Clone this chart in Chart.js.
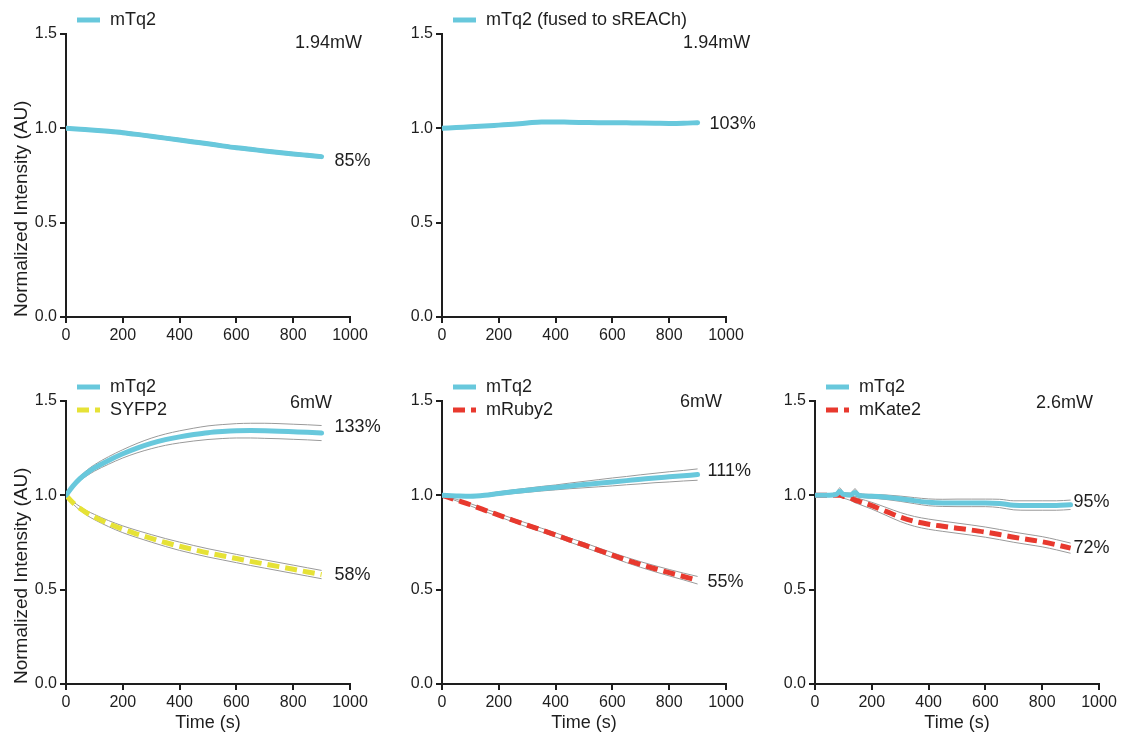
<!DOCTYPE html>
<html lang="en">
<head>
<meta charset="utf-8">
<title>Normalized Intensity</title>
<script src="https://cdn.jsdelivr.net/npm/chart.js@4/dist/chart.umd.min.js"></script>
<style>
    html, body { margin: 0; padding: 0; background: #fff; }
    #figura { position: relative; width: 1125px; height: 736px; overflow: hidden; }
    #figura canvas { position: absolute; }
</style>
</head>
<body>
<div id="figura">
    <canvas id="panel1"></canvas>
    <canvas id="panel2"></canvas>
    <canvas id="panel4"></canvas>
    <canvas id="panel5"></canvas>
    <canvas id="panel6"></canvas>
</div>
<script>
// Tiempos de medida (s)
const tiempo50 = [0, 50, 100, 150, 200, 250, 300, 350, 400, 450, 500, 550, 600, 650, 700, 750, 800, 850, 900];
const tiempoRapido = [0, 25, 50, 75, 100, 150, 200, 250, 300, 350, 400, 450, 500, 550, 600, 650, 700, 750, 800, 850, 900];
const tiempoP6 = [0, 50, 75, 87, 100, 125, 141, 155, 200, 250, 300, 350, 400, 450, 500, 550, 600, 650, 700, 750, 800, 850, 900];

// Panel 1: mTq2, 1.94mW
const mTq2P1 = [1.000, 0.995, 0.990, 0.984, 0.977, 0.968, 0.958, 0.948, 0.938, 0.928, 0.918, 0.907, 0.897, 0.889, 0.880, 0.872, 0.864, 0.857, 0.850];
const sdP1 = [0, 0.006, 0.007, 0.008, 0.008, 0.008, 0.008, 0.008, 0.008, 0.008, 0.008, 0.008, 0.008, 0.008, 0.008, 0.008, 0.008, 0.008, 0.008];

// Panel 2: mTq2 fusionado a sREACh, 1.94mW
const mTq2P2 = [1.000, 1.004, 1.008, 1.012, 1.017, 1.022, 1.028, 1.034, 1.034, 1.032, 1.031, 1.030, 1.030, 1.029, 1.028, 1.027, 1.026, 1.027, 1.030];
const sdP2 = [0, 0.005, 0.006, 0.006, 0.006, 0.006, 0.006, 0.006, 0.006, 0.006, 0.006, 0.006, 0.006, 0.006, 0.006, 0.006, 0.006, 0.006, 0.007];

// Panel 4: mTq2 + SYFP2, 6mW
const mTq2P4 = [1.000, 1.050, 1.090, 1.120, 1.145, 1.185, 1.220, 1.250, 1.275, 1.295, 1.310, 1.322, 1.332, 1.338, 1.342, 1.343, 1.342, 1.340, 1.337, 1.334, 1.330];
const sdMTq2P4 = [0, 0.008, 0.012, 0.015, 0.017, 0.020, 0.022, 0.025, 0.028, 0.030, 0.032, 0.034, 0.036, 0.037, 0.038, 0.039, 0.040, 0.040, 0.040, 0.040, 0.040];
const syfp2P4 = [1.000, 0.960, 0.930, 0.905, 0.885, 0.850, 0.820, 0.795, 0.772, 0.750, 0.730, 0.712, 0.695, 0.680, 0.665, 0.650, 0.636, 0.622, 0.608, 0.594, 0.580];
const sdSyfp2P4 = [0, 0.006, 0.010, 0.012, 0.014, 0.016, 0.018, 0.019, 0.020, 0.021, 0.022, 0.022, 0.022, 0.022, 0.022, 0.022, 0.022, 0.022, 0.022, 0.022, 0.022];

// Panel 5: mTq2 + mRuby2, 6mW
const mTq2P5 = [1.000, 0.997, 0.995, 1.000, 1.010, 1.019, 1.027, 1.035, 1.042, 1.050, 1.057, 1.064, 1.071, 1.078, 1.085, 1.092, 1.098, 1.104, 1.110];
const sdMTq2P5 = [0, 0.003, 0.005, 0.007, 0.009, 0.010, 0.011, 0.012, 0.013, 0.015, 0.017, 0.019, 0.021, 0.022, 0.024, 0.025, 0.027, 0.028, 0.030];
const mRuby2P5 = [1.000, 0.975, 0.950, 0.922, 0.895, 0.868, 0.842, 0.816, 0.790, 0.763, 0.737, 0.710, 0.683, 0.657, 0.633, 0.611, 0.590, 0.570, 0.550];
const sdMRuby2P5 = [0, 0.004, 0.006, 0.007, 0.008, 0.009, 0.010, 0.010, 0.011, 0.011, 0.012, 0.012, 0.013, 0.014, 0.015, 0.016, 0.017, 0.018, 0.020];

// Panel 6: mTq2 + mKate2, 2.6mW
const mTq2P6 = [1.000, 1.000, 1.005, 1.020, 1.005, 1.002, 1.015, 1.000, 0.995, 0.990, 0.982, 0.972, 0.963, 0.960, 0.960, 0.960, 0.960, 0.957, 0.947, 0.946, 0.946, 0.946, 0.950];
const sdMTq2P6 = [0, 0.005, 0.008, 0.020, 0.010, 0.010, 0.020, 0.010, 0.010, 0.012, 0.014, 0.016, 0.018, 0.019, 0.020, 0.020, 0.020, 0.022, 0.024, 0.025, 0.025, 0.025, 0.025];
const mKate2P6 = [1.000, 1.000, 1.000, 1.000, 0.995, 0.985, 0.975, 0.968, 0.945, 0.915, 0.885, 0.862, 0.847, 0.836, 0.826, 0.816, 0.805, 0.792, 0.778, 0.766, 0.754, 0.738, 0.720];
const sdMKate2P6 = [0, 0.004, 0.006, 0.008, 0.010, 0.012, 0.014, 0.015, 0.018, 0.021, 0.024, 0.026, 0.027, 0.027, 0.027, 0.027, 0.027, 0.027, 0.027, 0.027, 0.027, 0.027, 0.027];

// Ejes
const ticksX = [0, 200, 400, 600, 800, 1000];
const ticksY = [0.0, 0.5, 1.0, 1.5];

const CIAN = '#68c8dc';
const AMARILLO = '#e6e236';
const ROJO = '#e8392e';
const GRIS = '#9a9a9a';
const TEXTO = '#1e1e1e';
const FUENTE = "'Liberation Sans', Arial, Helvetica, sans-serif";

// Area de cada grafica dentro de la figura
const ANCHO_AREA = 284;
const ALTO_AREA = 283;
const EJE_Y = 66;      // ancho reservado al eje Y (titulo + ticks)
const PAD_TOP = 34;
const PAD_RIGHT = 40;

const paneles = [
    {
        id: 'panel1', left: 66, top: 34, tituloY: true, tituloX: false,
        potencia: { texto: '1.94mW', x: 1042, y: 1.452 }, separacion: 13,
        series: [
            { label: 'mTq2', color: CIAN, dash: [], tiempos: tiempo50, media: mTq2P1, sd: sdP1, dy: 4 }
        ]
    },
    {
        id: 'panel2', left: 442, top: 34, tituloY: false, tituloX: false,
        potencia: { texto: '1.94mW', x: 1085, y: 1.452 }, separacion: 12,
        series: [
            { label: 'mTq2 (fused to sREACh)', color: CIAN, dash: [], tiempos: tiempo50, media: mTq2P2, sd: sdP2, dy: 1 }
        ]
    },
    {
        id: 'panel4', left: 66, top: 401, tituloY: true, tituloX: true,
        potencia: { texto: '6mW', x: 937, y: 1.489 }, separacion: 13,
        series: [
            { label: 'mTq2', color: CIAN, dash: [], tiempos: tiempoRapido, media: mTq2P4, sd: sdMTq2P4, dy: -6 },
            { label: 'SYFP2', color: AMARILLO, dash: [12, 6], tiempos: tiempoRapido, media: syfp2P4, sd: sdSyfp2P4, dy: 0 }
        ]
    },
    {
        id: 'panel5', left: 442, top: 401, tituloY: false, tituloX: true,
        potencia: { texto: '6mW', x: 986, y: 1.495 }, separacion: 10,
        series: [
            { label: 'mTq2', color: CIAN, dash: [], tiempos: tiempo50, media: mTq2P5, sd: sdMTq2P5, dy: -4 },
            { label: 'mRuby2', color: ROJO, dash: [12, 6], tiempos: tiempo50, media: mRuby2P5, sd: sdMRuby2P5, dy: 2 }
        ]
    },
    {
        id: 'panel6', left: 815, top: 401, tituloY: false, tituloX: true,
        potencia: { texto: '2.6mW', x: 979, y: 1.489 }, separacion: 3,
        series: [
            { label: 'mTq2', color: CIAN, dash: [], tiempos: tiempoP6, media: mTq2P6, sd: sdMTq2P6, dy: -3 },
            { label: 'mKate2', color: ROJO, dash: [12, 6], tiempos: tiempoP6, media: mKate2P6, sd: sdMKate2P6, dy: 0 }
        ]
    }
];

function puntos(tiempos, valores) {
    return tiempos.map((t, i) => ({ x: t, y: valores[i] }));
}

function construirDatasets(series) {
    const datasets = [];
    series.forEach(s => {
        datasets.push({
            label: s.label,
            data: puntos(s.tiempos, s.media),
            borderColor: s.color,
            borderWidth: 5,
            borderDash: s.dash,
            borderCapStyle: s.dash.length ? 'butt' : 'round',
            borderJoinStyle: 'round',
            pointRadius: 0,
            cubicInterpolationMode: 'monotone',
            order: 0
        });
        // Desviacion estandar por arriba y por abajo
        [1, -1].forEach(signo => {
            datasets.push({
                label: s.label + (signo > 0 ? ' +SD' : ' -SD'),
                data: puntos(s.tiempos, s.media.map((m, i) => m + signo * s.sd[i])),
                borderColor: GRIS,
                borderWidth: 1,
                pointRadius: 0,
                cubicInterpolationMode: 'monotone',
                order: 1
            });
        });
    });
    return datasets;
}

// Leyenda, potencia del laser y porcentaje final de cada curva
function pluginAnotaciones(panel) {
    return {
        id: 'anotaciones',
        afterDatasetsDraw(chart) {
            const { ctx, chartArea } = chart;
            const xs = chart.scales.x;
            const ys = chart.scales.y;
            ctx.save();
            ctx.font = '18px ' + FUENTE;
            ctx.fillStyle = TEXTO;
            ctx.textBaseline = 'middle';

            panel.series.forEach((s, i) => {
                const y = chartArea.top - 14 + i * 23;
                ctx.save();
                ctx.strokeStyle = s.color;
                ctx.lineWidth = 5;
                ctx.setLineDash(s.dash);
                ctx.lineCap = 'butt';
                ctx.beginPath();
                ctx.moveTo(chartArea.left + 11, y);
                ctx.lineTo(chartArea.left + 34, y);
                ctx.stroke();
                ctx.restore();
                ctx.textAlign = 'left';
                ctx.fillText(s.label, chartArea.left + 44, y);

                const n = s.media.length - 1;
                const ultimo = s.media[n];
                ctx.fillText(Math.round(ultimo * 100) + '%',
                    xs.getPixelForValue(s.tiempos[n]) + panel.separacion,
                    ys.getPixelForValue(ultimo) + s.dy);
            });

            ctx.textAlign = 'right';
            ctx.fillText(panel.potencia.texto,
                xs.getPixelForValue(panel.potencia.x),
                ys.getPixelForValue(panel.potencia.y));
            ctx.restore();
        }
    };
}

function crearPanel(panel) {
    const canvas = document.getElementById(panel.id);
    const altoEjeX = panel.tituloX ? 52 : 30;
    canvas.width = EJE_Y + ANCHO_AREA + PAD_RIGHT;
    canvas.height = PAD_TOP + ALTO_AREA + altoEjeX;
    canvas.style.left = (panel.left - EJE_Y) + 'px';
    canvas.style.top = (panel.top - PAD_TOP) + 'px';

    const rejilla = {
        display: true,
        drawOnChartArea: false,
        drawTicks: true,
        tickLength: 6,
        color: TEXTO,
        lineWidth: 2
    };
    const borde = { display: true, color: TEXTO, width: 2 };

    new Chart(canvas.getContext('2d'), {
        type: 'line',
        data: { datasets: construirDatasets(panel.series) },
        options: {
            responsive: false,
            animation: false,
            events: [],
            layout: { padding: { top: PAD_TOP, right: PAD_RIGHT, bottom: 0, left: 0 } },
            plugins: {
                legend: { display: false },
                tooltip: { enabled: false }
            },
            scales: {
                x: {
                    type: 'linear',
                    min: ticksX[0],
                    max: ticksX[ticksX.length - 1],
                    afterBuildTicks: scale => { scale.ticks = ticksX.map(v => ({ value: v })); },
                    afterFit: scale => { scale.height = altoEjeX; },
                    ticks: {
                        color: TEXTO,
                        padding: 3,
                        maxRotation: 0,
                        font: { size: 16 },
                        callback: v => String(v)
                    },
                    grid: rejilla,
                    border: borde,
                    title: {
                        display: panel.tituloX,
                        text: 'Time (s)',
                        color: TEXTO,
                        font: { size: 18 },
                        padding: { top: 0, bottom: 2 }
                    }
                },
                y: {
                    type: 'linear',
                    min: ticksY[0],
                    max: ticksY[ticksY.length - 1],
                    afterBuildTicks: scale => { scale.ticks = ticksY.map(v => ({ value: v })); },
                    afterFit: scale => { scale.width = EJE_Y; },
                    ticks: {
                        color: TEXTO,
                        padding: 3,
                        font: { size: 16 },
                        callback: v => Number(v).toFixed(1)
                    },
                    grid: rejilla,
                    border: borde,
                    title: {
                        display: panel.tituloY,
                        text: 'Normalized Intensity (AU)',
                        align: 'start',
                        color: TEXTO,
                        font: { size: 19 },
                        padding: { top: 10, bottom: 0 }
                    }
                }
            }
        },
        plugins: [pluginAnotaciones(panel)]
    });
}

Chart.defaults.font.family = FUENTE;
paneles.forEach(crearPanel);
</script>
</body>
</html>
